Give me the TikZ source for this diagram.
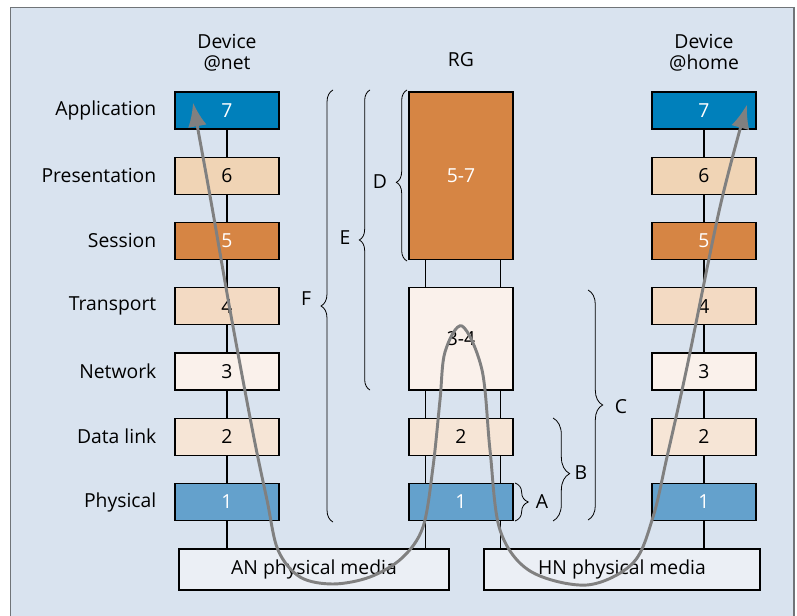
\documentclass[tikz,border=0pt]{standalone}
\usepackage{fontspec}
\setmainfont{Open Sans}
\usetikzlibrary{arrows.meta,decorations.pathreplacing,calc,backgrounds}

\definecolor{bgblue}{HTML}{D9E3EF}
\definecolor{framegray}{HTML}{707478}
\definecolor{appblue}{HTML}{0080BB}
\definecolor{phyblue}{HTML}{64A1CC}
\definecolor{sesorange}{HTML}{D68544}
\definecolor{pretan}{HTML}{F0D4B5}
\definecolor{tratan}{HTML}{F3DAC3}
\definecolor{dlltan}{HTML}{F6E5D6}
\definecolor{netcream}{HTML}{FAF1EB}
\definecolor{mediagray}{HTML}{EBEFF5}
\definecolor{flowgray}{HTML}{808080}

\begin{document}
\begin{tikzpicture}[x=0.75pt,y=-0.75pt,
    font=\fontsize{14.5}{15.5}\selectfont,
    osibox/.style={draw=black,line width=0.8pt,minimum width=78pt,minimum height=27.75pt,inner sep=0pt},
    media/.style={osibox,fill=mediagray,minimum height=30.75pt},
    wire/.style={line width=0.8pt},
    curly/.style={decorate,decoration={brace,amplitude=#1},line width=0.6pt},
    flow/.style={draw=flowgray,line width=2.2pt,{Latex[length=18pt,width=14pt]}-{Latex[length=18pt,width=14pt]}}]
        \useasboundingbox (0,0) rectangle (797,616);

        % column heads
        \node[align=center] (hnet) at (227,53) {Device\\@net};
        \node (hrg) at (461,60) {RG};
        \node[align=center] (hhome) at (704,53) {Device\\@home};

        % layer names
        \node[anchor=east] (tapp) at (161,110.5) {Application};
        \node[anchor=east] (tpre) at (161,175.75) {Presentation};
        \node[anchor=east] (tses) at (161,241) {Session};
        \node[anchor=east] (ttra) at (161,306.25) {Transport};
        \node[anchor=east] (tnet) at (161,371.5) {Network};
        \node[anchor=east] (tdll) at (161,436.75) {Data link};
        \node[anchor=east] (tphy) at (161,502) {Physical};

        % device @net
        \node[osibox,fill=appblue,text=white] (L7) at (227,110.5) {7};
        \node[osibox,fill=pretan] (L6) at (227,175.75) {6};
        \node[osibox,fill=sesorange,text=white] (L5) at (227,241) {5};
        \node[osibox,fill=tratan] (L4) at (227,306.25) {4};
        \node[osibox,fill=netcream] (L3) at (227,371.5) {3};
        \node[osibox,fill=dlltan] (L2) at (227,436.75) {2};
        \node[osibox,fill=phyblue,text=white] (L1) at (227,502) {1};

        % RG
        \node[osibox,fill=sesorange,text=white,minimum height=125.6pt] (G57) at (461,175.75) {5-7};
        \node[osibox,fill=netcream,minimum height=76.7pt] (G34) at (461,338.9) {3-4};
        \node[osibox,fill=dlltan] (G2) at (461,436.75) {2};
        \node[osibox,fill=phyblue,text=white] (G1) at (461,502) {1};

        % device @home
        \node[osibox,fill=appblue,text=white] (R7) at (704,110.5) {7};
        \node[osibox,fill=pretan] (R6) at (704,175.75) {6};
        \node[osibox,fill=sesorange,text=white] (R5) at (704,241) {5};
        \node[osibox,fill=tratan] (R4) at (704,306.25) {4};
        \node[osibox,fill=netcream] (R3) at (704,371.5) {3};
        \node[osibox,fill=dlltan] (R2) at (704,436.75) {2};
        \node[osibox,fill=phyblue,text=white] (R1) at (704,502) {1};

        % media
        \node[media,minimum width=202.5pt] (AN) at (314,569.5) {AN physical media};
        \node[media,minimum width=207pt] (HN) at (622,569.5) {HN physical media};

        % braces
        \draw[curly=9pt] (333,522) -- (333,90);
        \draw[curly=8pt] (370,390) -- (370,90);
        \draw[curly=8pt,decoration={aspect=0.46}] (407,261) -- (407,90);
        \draw[curly=10pt] (515,483) -- (515,521);
        \draw[curly=12.5pt,decoration={aspect=0.54}] (553,418) -- (553,521);
        \draw[curly=11pt] (588,290) -- (588,520);
        \node (lF) at (306,299) {F};
        \node (lE) at (345,238) {E};
        \node (lD) at (380,182) {D};
        \node (lA) at (542,502) {A};
        \node (lB) at (581,473) {B};
        \node (lC) at (621,407) {C};

        % path of the traffic
        \coordinate (tipL) at ($(L7.center)+(-34,-8)$);
        \coordinate (tipR) at ($(R7.center)+(43,-6)$);
        \draw[flow] plot[smooth,tension=0.55] coordinates {(tipL) (212,207) (230,310) (253,433) (267,500) (278,550) (300,577) (333,584) (370,577) (402,558) (423,527) (433,467) (440,400) (445,352) (462,326) (482,370) (490,450) (500,530) (530,571) (587,585) (633,563) (653,517) (667,457) (687,367) (720,207) (tipR)};

        \begin{scope}[on background layer]
            \draw[framegray,fill=bgblue,line width=1pt] (10.5,7.5) rectangle (794,630);
            \draw[wire] (L7) -- (L6) (L6) -- (L5) (L5) -- (L4) (L4) -- (L3) (L3) -- (L2) (L2) -- (L1);
            \draw[wire] (L1) -- (L1 |- AN.north);
            \draw[wire] (R7) -- (R6) (R6) -- (R5) (R5) -- (R4) (R4) -- (R3) (R3) -- (R2) (R2) -- (R1);
            \draw[wire] (R1) -- (R1 |- HN.north);
            \coordinate (gl) at ($(G57.south west)+(17,0)$);
            \coordinate (gr) at ($(G57.south east)+(-13,0)$);
            \draw[wire] (gl) -- (gl |- AN.north);
            \draw[wire] (gr) -- (gr |- HN.north);
        \end{scope}
    \end{tikzpicture}
\end{document}
